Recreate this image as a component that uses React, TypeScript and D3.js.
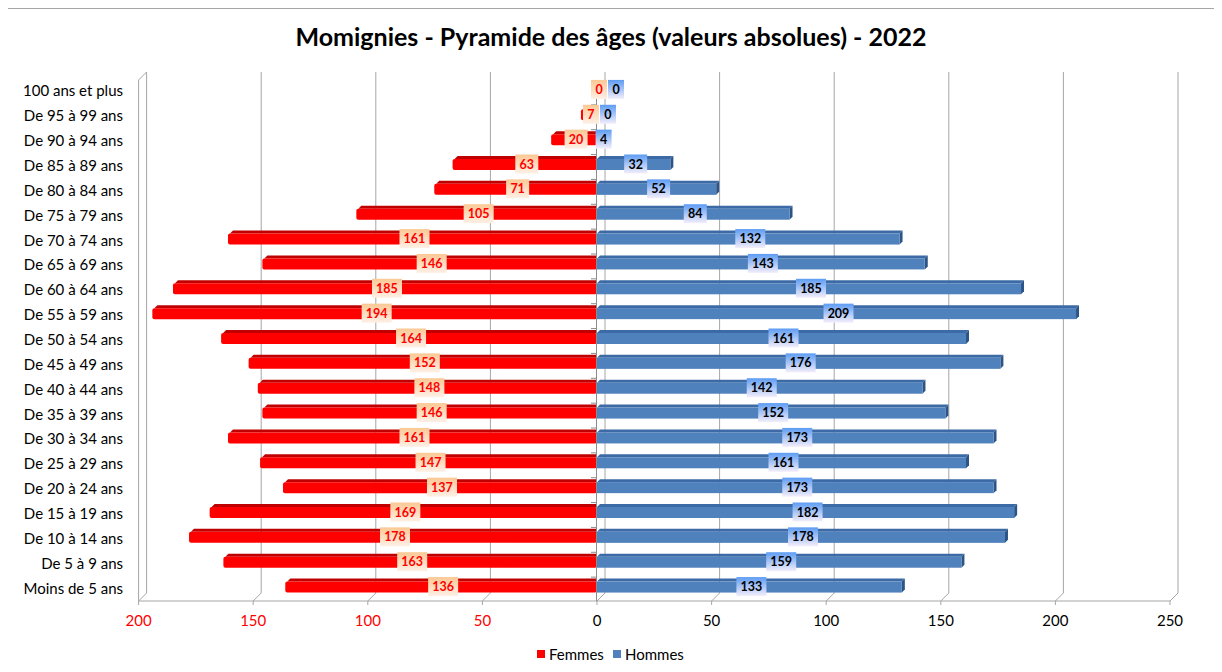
import * as d3 from 'd3';
import { useEffect, useRef } from 'react';

const categories = [
  '100 ans et plus', 'De 95 à 99 ans', 'De 90 à 94 ans', 'De 85 à 89 ans', 'De 80 à 84 ans',
  'De 75 à 79 ans', 'De 70 à 74 ans', 'De 65 à 69 ans', 'De 60 à 64 ans', 'De 55 à 59 ans',
  'De 50 à 54 ans', 'De 45 à 49 ans', 'De 40 à 44 ans', 'De 35 à 39 ans', 'De 30 à 34 ans',
  'De 25 à 29 ans', 'De 20 à 24 ans', 'De 15 à 19 ans', 'De 10 à 14 ans', 'De 5 à 9 ans',
  'Moins de 5 ans',
];
const femmes = [0, 7, 20, 63, 71, 105, 161, 146, 185, 194, 164, 152, 148, 146, 161, 147, 137, 169, 178, 163, 136];
const hommes = [0, 0, 4, 32, 52, 84, 132, 143, 185, 209, 161, 176, 142, 152, 173, 161, 173, 182, 178, 159, 133];
const xTicks = [-200, -150, -100, -50, 0, 50, 100, 150, 200, 250];

const FONT = 'Lato, "Noto Sans", sans-serif';

export default function App() {
  const ref = useRef<HTMLDivElement>(null);

  useEffect(() => {
    const width = 1222;
    const height = 672;
    const depth = 8;
    const top = 72;
    const floor = 601;

    d3.select(ref.current).selectAll('*').remove();

    const svg = d3
      .select(ref.current)
      .append('svg')
      .attr('width', width)
      .attr('height', height)
      .style('display', 'block')
      .style('font-family', FONT);

    const defs = svg.append('defs');
    const gF = defs.append('linearGradient').attr('id', 'gF').attr('x1', 0).attr('y1', 0).attr('x2', 0).attr('y2', 1);
    gF.append('stop').attr('offset', '0%').attr('stop-color', '#fbc894');
    gF.append('stop').attr('offset', '100%').attr('stop-color', '#fdf0e6');
    const gH = defs.append('linearGradient').attr('id', 'gH').attr('x1', 0).attr('y1', 0).attr('x2', 0).attr('y2', 1);
    gH.append('stop').attr('offset', '0%').attr('stop-color', '#5d9cf3');
    gH.append('stop').attr('offset', '100%').attr('stop-color', '#f4eefb');

    // outer border
    svg.append('rect')
      .attr('x', 7.5).attr('y', 8.5).attr('width', 1207).attr('height', 656)
      .attr('fill', '#fff').attr('stroke', '#a6a6a6');

    // title
    svg.append('text')
      .attr('x', 611).attr('y', 46)
      .attr('text-anchor', 'middle')
      .style('font-size', '25px').style('font-weight', 700)
      .text('Momignies - Pyramide des âges (valeurs absolues) - 2022');

    const x = d3.scaleLinear().domain([-200, 250]).range([138.6, 1170]);
    const y = d3.scaleBand<string>().domain(categories).range([76, 598]);

    /* ---------- WALLS / GRID ---------- */
    const grid = svg.append('g').attr('stroke', '#a6a6a6').attr('fill', 'none');
    xTicks.forEach(t => {
      const xf = x(t);
      grid.append('path')
        .attr('d', `M${xf + depth},${top} L${xf + depth},${floor - depth} L${xf},${floor}`);
      grid.append('line')
        .attr('x1', xf).attr('x2', xf).attr('y1', floor).attr('y2', floor + 4);
    });
    // left side wall
    grid.append('path')
      .attr('d', `M${x(-200)},${floor} L${x(-200)},${top + depth} L${x(-200) + depth},${top}`);
    // floor front edge
    grid.append('line')
      .attr('x1', x(-200)).attr('x2', x(250)).attr('y1', floor).attr('y2', floor);

    /* ---------- BARS ---------- */
    const bh = 14;
    const strip = 3;
    const bars = svg.append('g');
    categories.forEach((c, i) => {
      const cy = (y(c) as number) + y.bandwidth() / 2;
      const yt = cy - bh / 2;
      const f = femmes[i];
      const h = hommes[i];
      const x0 = x(0);
      if (f > 0) {
        const xl = x(-f);
        bars.append('path')
          .attr('d', `M${xl + 2},${yt + strip} L${xl + 2 + strip},${yt} L${x0},${yt} L${x0},${yt + strip} Z`)
          .attr('fill', '#c00000');
        bars.append('rect')
          .attr('x', xl).attr('y', yt + strip).attr('width', x0 - xl).attr('height', bh - strip)
          .attr('rx', 2).attr('fill', '#ff0000');
      }
      if (h > 0) {
        const xr = x(h);
        bars.append('path')
          .attr('d', `M${x0},${yt + strip} L${x0 + strip},${yt} L${xr + strip},${yt} L${xr},${yt + strip} Z`)
          .attr('fill', '#3b6aa6');
        bars.append('path')
          .attr('d', `M${xr},${yt + strip} L${xr + strip},${yt} L${xr + strip},${yt + bh - strip} L${xr},${yt + bh} Z`)
          .attr('fill', '#2c5487');
        bars.append('rect')
          .attr('x', x0).attr('y', yt + strip).attr('width', xr - x0).attr('height', bh - strip)
          .attr('fill', '#4f81bd');
      }
    });

    // zero axis with minor ticks
    const axis0 = svg.append('g').attr('stroke', '#8c8c8c');
    axis0.append('line')
      .attr('x1', x(0) - 0.5).attr('x2', x(0) - 0.5).attr('y1', top + depth).attr('y2', floor);
    categories.forEach((c, i) => {
      if (i === 0) return;
      const yy = (y(c) as number) + 4;
      axis0.append('line')
        .attr('x1', x(0) - 6).attr('x2', x(0) - 0.5).attr('y1', yy).attr('y2', yy);
    });

    /* ---------- DATA LABELS ---------- */
    const labels = svg.append('g')
      .style('font-size', '12.5px').style('font-weight', 700)
      .attr('text-anchor', 'middle');
    const lh = 19;
    categories.forEach((c, i) => {
      const cy = (y(c) as number) + y.bandwidth() / 2 + 1;
      const ft = String(femmes[i]);
      const ht = String(hommes[i]);
      const fw = ft.length * 7 + 9;
      const hw = ht.length * 7 + 9;
      const fx = x(-femmes[i] / 2) + 2;
      let hx = x(hommes[i] / 2) + 2;
      if (hx - hw / 2 < fx + fw / 2 + 1) hx = fx + fw / 2 + 1 + hw / 2;
      labels.append('rect')
        .attr('x', fx - fw / 2).attr('y', cy - lh / 2).attr('width', fw).attr('height', lh)
        .attr('fill', 'url(#gF)');
      labels.append('text')
        .attr('x', fx).attr('y', cy + 4.5).attr('fill', '#ff0000').text(ft);
      labels.append('rect')
        .attr('x', hx - hw / 2).attr('y', cy - lh / 2).attr('width', hw).attr('height', lh)
        .attr('fill', 'url(#gH)');
      labels.append('text')
        .attr('x', hx).attr('y', cy + 4.5).attr('fill', '#000').text(ht);
    });

    /* ---------- CATEGORY LABELS ---------- */
    svg.append('g')
      .style('font-size', '15px')
      .attr('text-anchor', 'end')
      .selectAll('text')
      .data(categories)
      .enter()
      .append('text')
      .attr('x', 123)
      .attr('y', d => (y(d) as number) + y.bandwidth() / 2 + 8)
      .text(d => d);

    /* ---------- X TICK LABELS ---------- */
    svg.append('g')
      .style('font-size', '15px')
      .attr('text-anchor', 'middle')
      .selectAll('text')
      .data(xTicks)
      .enter()
      .append('text')
      .attr('x', d => x(d))
      .attr('y', 626)
      .attr('fill', d => (d < 0 ? '#ff0000' : '#000'))
      .text(d => Math.abs(d));

    /* ---------- LEGEND ---------- */
    const legend = svg.append('g').style('font-size', '15px');
    legend.append('rect').attr('x', 537).attr('y', 650).attr('width', 8).attr('height', 8).attr('fill', '#ff0000');
    legend.append('text').attr('x', 549).attr('y', 660).text('Femmes');
    legend.append('rect').attr('x', 613).attr('y', 650).attr('width', 8).attr('height', 8).attr('fill', '#4f81bd');
    legend.append('text').attr('x', 625).attr('y', 660).text('Hommes');
  }, []);

  return <div ref={ref} style={{ margin: -8 }} />;
}
